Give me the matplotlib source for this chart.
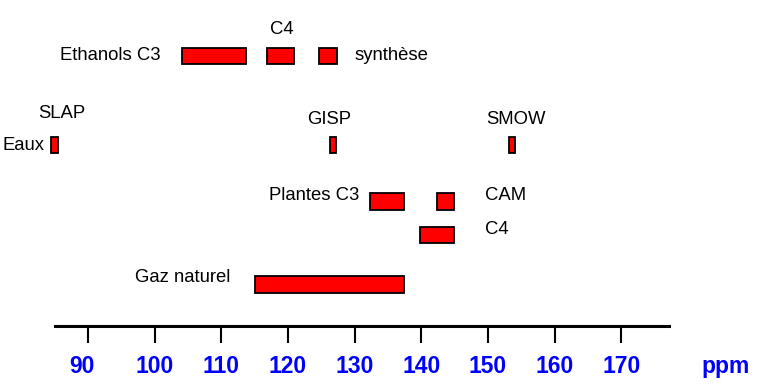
"""Isotope ratio ranges (ppm) for various samples"""

import matplotlib
matplotlib.use("Agg")
import matplotlib.pyplot as plt
from matplotlib.transforms import ScaledTranslation

plt.rcParams['font.family'] = ['Liberation Sans', 'DejaVu Sans']

#==================================
# Data (ppm ranges)

names = ["Ethanols C3", "Ethanols C4", "Synthese", "SLAP", "GISP", "SMOW",
         "Plantes C3", "CAM", "Plantes C4", "Gaz naturel"]
low = [104.1, 116.9, 124.7, 84.45, 126.3, 153.2, 132.3, 142.3, 139.85, 115.05]
high = [113.75, 120.9, 127.3, 85.45, 127.2, 154.05, 137.45, 144.85, 144.85, 137.45]
ticks = [90, 100, 110, 120, 130, 140, 150, 160, 170]

#==================================
# Layout (row centre in pixels from top)

row = {"Ethanols C3": 56, "Ethanols C4": 56, "Synthese": 56,
       "SLAP": 145, "GISP": 145, "SMOW": 145,
       "Plantes C3": 201.5, "CAM": 201.5, "Plantes C4": 235,
       "Gaz naturel": 284.5}

px = 6.665  # pixels per ppm
fig = plt.figure(figsize=(7.6, 3.85), dpi=100)
ax = fig.add_axes([0, 59 / 385, 1, 326 / 385])
ax.set_xlim(90 - 88 / px, 90 + (760 - 88) / px)
ax.set_ylim(326, 0)

ys = [row[n] for n in names]
widths = [h - l for l, h in zip(low, high)]
ax.barh(ys, widths, left=low, height=16.5, color='#ff0000',
        edgecolor='black', linewidth=1.3)

# axis styling
for s in ["top", "left", "right"]:
    ax.spines[s].set_visible(False)
ax.spines["bottom"].set_linewidth(2.2)
ax.spines["bottom"].set_bounds(85.05, 177.2)
ax.set_yticks([])
ax.set_xticks(ticks)
ax.tick_params(axis='x', length=12, width=1.5, direction='out', pad=9,
               labelsize=16.5, labelcolor='#0000ff')
for lab in ax.get_xticklabels():
    lab.set_fontweight('bold')
# first label sits a little left of its tick
first = ax.get_xticklabels()[0]
first.set_transform(first.get_transform() + ScaledTranslation(-0.06, 0, fig.dpi_scale_trans))

ax.text(185.6, 367, "ppm", color='#0000ff', fontsize=16.5, fontweight='bold',
        ha='center', va='center')

# labels
fs = 13.3
ax.text(119.1, 30, "C4", fontsize=fs, ha='center', va='center')
ax.text(100.95, 56, "Ethanols C3", fontsize=fs, ha='right', va='center')
ax.text(130.05, 56, "synthèse", fontsize=fs, ha='left', va='center')
ax.text(86.1, 114, "SLAP", fontsize=fs, ha='center', va='center')
ax.text(83.4, 145, "Eaux", fontsize=fs, ha='right', va='center')
ax.text(126.15, 120, "GISP", fontsize=fs, ha='center', va='center')
ax.text(154.2, 120, "SMOW", fontsize=fs, ha='center', va='center')
ax.text(130.65, 195, "Plantes C3", fontsize=fs, ha='right', va='center')
ax.text(149.5, 195, "CAM", fontsize=fs, ha='left', va='center')
ax.text(149.5, 229, "C4", fontsize=fs, ha='left', va='center')
ax.text(111.3, 278, "Gaz naturel", fontsize=fs, ha='right', va='center')

plt.savefig("out.png", dpi=100)
